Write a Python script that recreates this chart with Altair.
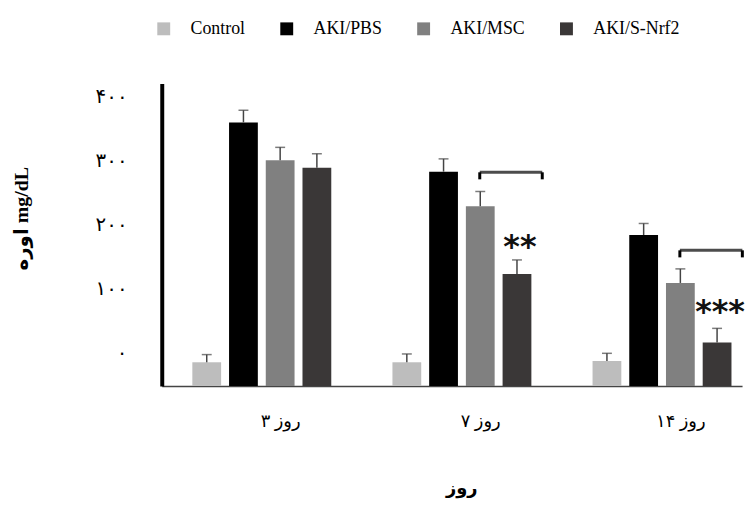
import altair as alt
import pandas as pd

# ---- data ----
days = ["۳ روز", "۷ روز", "۱۴ روز"]
groups = ["Control", "AKI/PBS", "AKI/MSC", "AKI/S-Nrf2"]
colors = ["#bdbdbd", "#000000", "#808080", "#3a3737"]

control = [37, 37, 39]
pbs = [412, 335, 236]
msc = [353, 281, 161]
nrf2 = [341, 175, 68]

control_err = [12, 13, 12]
pbs_err = [19, 20, 18]
msc_err = [20, 23, 22]
nrf2_err = [22, 22, 22]

y_ticks = [0, 100, 200, 300, 400]
y_tick_labels = ["۰", "۱۰۰", "۲۰۰", "۳۰۰", "۴۰۰"]

sig_days = ["۷ روز", "۱۴ روز"]
sig_labels = ["**", "***"]
sig_star_y = [228, 126]
bracket_top = [334, 212]
bracket_bottom = [323, 201]

# ---- tables ----
rows = []
for g, vals, errs in zip(groups, [control, pbs, msc, nrf2],
                         [control_err, pbs_err, msc_err, nrf2_err]):
    for d, v, e in zip(days, vals, errs):
        rows.append({"day": d, "group": g, "mean": v, "upper": v + e})
df = pd.DataFrame(rows)

sig = pd.DataFrame({
    "day": sig_days,
    "label": sig_labels,
    "star_y": sig_star_y,
    "top": bracket_top,
    "bottom": bracket_bottom,
    "group": ["AKI/S-Nrf2"] * len(sig_days),
})

label_expr = "[" + ",".join("'%s'" % t for t in y_tick_labels) + "][round(datum.value/100)]"

FONT = "Liberation Serif, DejaVu Serif, DejaVu Sans"

x_enc = alt.X(
    "day:N", sort=days,
    scale=alt.Scale(paddingInner=0.2, paddingOuter=0.05, align=1),
    axis=alt.Axis(
        title="روز", labelAngle=0, ticks=False, tickSize=0,
        domainColor="#444444", domainWidth=1.5,
        labelFontSize=18, labelPadding=27, labelOffset=19, labelColor="black",
        labelFont=FONT,
        titleFontSize=18, titleFontWeight="bold", titleFont=FONT,
        titleX=302, titleY=103, titleAlign="center", titleBaseline="middle",
        titleColor="black",
    ),
)
xo_enc = alt.XOffset("group:N", sort=groups,
                     scale=alt.Scale(paddingInner=0.216, paddingOuter=0.288))
y_scale = alt.Scale(domain=[0, 473], nice=False, zero=True)

y_enc = alt.Y(
    "mean:Q", scale=y_scale,
    axis=alt.Axis(
        title="اوره mg/dL", values=y_ticks, labelExpr=label_expr,
        ticks=False, tickSize=0, domainColor="black", domainWidth=4,
        labelFontSize=20, labelPadding=35, labelOffset=-34, labelColor="black",
        labelFont=FONT,
        titleFontSize=20, titleFontWeight="bold", titleFont=FONT,
        titleAngle=270, titleX=-141, titleY=136, titleAlign="center",
        titleBaseline="middle", titleColor="black",
    ),
)

color_enc = alt.Color(
    "group:N", sort=groups,
    scale=alt.Scale(domain=groups, range=colors),
    legend=alt.Legend(
        orient="none", legendX=-7, legendY=-64, direction="horizontal",
        title=None, symbolType="square", symbolSize=169, symbolStrokeWidth=0,
        labelFontSize=18, labelFont=FONT, labelColor="black", labelOffset=18,
        columnPadding=32, padding=0, columns=4,
    ),
)

bars = alt.Chart(df).mark_bar().encode(x=x_enc, xOffset=xo_enc, y=y_enc, color=color_enc)

stems = alt.Chart(df).mark_rule(color="#444444", strokeWidth=1.5).encode(
    x=x_enc, xOffset=xo_enc, y=alt.Y("mean:Q", scale=y_scale), y2="upper:Q")

caps = alt.Chart(df).mark_tick(color="#444444", thickness=1.5, size=10).encode(
    x=x_enc, xOffset=xo_enc, y=alt.Y("upper:Q", scale=y_scale))

bracket_h = alt.Chart(sig).mark_tick(color="black", thickness=3, size=63, xOffset=49.5).encode(
    x=x_enc, y=alt.Y("top:Q", scale=y_scale))
bracket_l = alt.Chart(sig).mark_rule(color="black", strokeWidth=3, xOffset=18).encode(
    x=x_enc, y=alt.Y("top:Q", scale=y_scale), y2="bottom:Q")
bracket_r = alt.Chart(sig).mark_rule(color="black", strokeWidth=3, xOffset=81).encode(
    x=x_enc, y=alt.Y("top:Q", scale=y_scale), y2="bottom:Q")

stars = alt.Chart(sig).mark_text(
    fontSize=32, fontWeight="bold", font="DejaVu Sans", dx=3, dy=7, baseline="middle",
    color="#111111",
).encode(x=x_enc, xOffset=xo_enc, y=alt.Y("star_y:Q", scale=y_scale), text="label:N")

chart = alt.layer(bars, stems, caps, bracket_h, bracket_l, bracket_r, stars).properties(
    width=585, height=305,
    padding={"left": 155, "top": 74, "right": 6, "bottom": 115},
    autosize=alt.AutoSizeParams(type="none"),
    background="white",
).configure_view(stroke=None).configure_axis(grid=False)

chart.save("out.html", embed_options={"renderer": "svg", "actions": False})
